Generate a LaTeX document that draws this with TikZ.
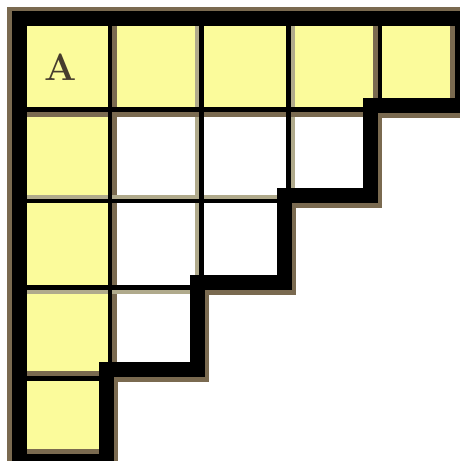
\documentclass[tikz,border=0pt]{standalone}
\usetikzlibrary{calc}
\definecolor{hookyellow}{RGB}{251,251,155}
\definecolor{shadebrown}{RGB}{122,106,80}
\definecolor{shadetan}{RGB}{176,170,140}
\definecolor{letterink}{RGB}{70,60,45}

\begin{document}
\begin{tikzpicture}[x=1pt, y=-1pt, line join=miter,
    thinline/.style={line width=4.5pt},
    thickline/.style={line width=15pt}]
  \useasboundingbox (0,0) rectangle (460,461);
  \clip (0,0) rectangle (460,461);
  % hook of the corner cell: first row and first column
  \fill[hookyellow] (19,18) -- (470,18) -- (470,110) -- (110,110) -- (110,470) -- (19,470) -- cycle;
  % shadows of the inner grid lines
  \foreach \gx/\sx/\yend/\shade in {110/114.5/378/shadebrown, 201.5/197/287.5/shadetan,
                                     288.5/293/201/shadetan, 380/375.5/109.5/shadebrown}
    \draw[thinline, \shade] (\sx,18) -- (\sx,\yend);
  \foreach \gy/\sy/\xend/\shade in {109.5/114.5/380/shadebrown, 201/197/288.5/shadetan,
                                     287.5/292/201.5/shadetan, 378.5/373.5/110/shadebrown}
    \draw[thinline, \shade] (19,\sy) -- (\xend,\sy);
  % inner grid lines
  \foreach \gx/\sx/\yend/\shade in {110/114.5/378/shadebrown, 201.5/197/287.5/shadetan,
                                     288.5/293/201/shadetan, 380/375.5/109.5/shadebrown}
    \draw[thinline] (\gx,18) -- (\gx,\yend);
  \foreach \gy/\sy/\xend/\shade in {109.5/114.5/380/shadebrown, 201/197/288.5/shadetan,
                                     287.5/292/201.5/shadetan, 378.5/373.5/110/shadebrown}
    \draw[thinline] (19,\gy) -- (\xend,\gy);
  % shadows of the frame and of the staircase
  \draw[thickline, shadebrown, shift={(-5,-4.5)}]
    (106.5,461) -- (19,461) -- (19,18.5) -- (462,18.5) -- (462,105);
  \draw[thickline, shadebrown, shift={(4,5)}]
    (462,105) -- (370,105) -- (370,195.5) -- (284.5,195.5) -- (284.5,282.5)
    -- (197.5,282.5) -- (197.5,369) -- (106.5,369) -- (106.5,470);
  % outline of the shape
  \draw[thickline] (19,18.5) -- (462,18.5) -- (462,105) -- (370,105) -- (370,195.5)
    -- (284.5,195.5) -- (284.5,282.5) -- (197.5,282.5) -- (197.5,369)
    -- (106.5,369) -- (106.5,461) -- (19,461) -- cycle;
  % label of the corner cell
  \node[text=letterink, font=\fontsize{38}{38}\selectfont\bfseries] (cornerA) at (61,67) {A};
\end{tikzpicture}
\end{document}
